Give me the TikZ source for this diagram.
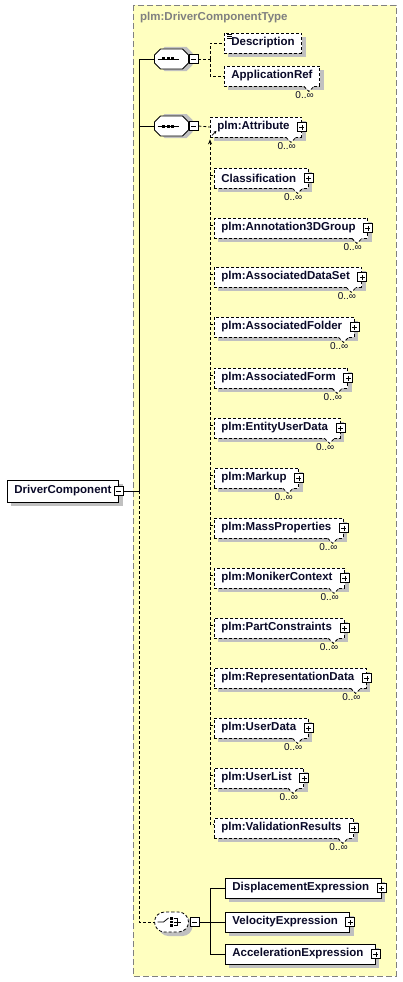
\documentclass[tikz,border=0pt]{standalone}
\usepackage{fontspec}
\setmainfont{Liberation Sans}
\usepackage{tikz}
\usetikzlibrary{shapes.misc, arrows.meta, positioning, calc, shadows}
\definecolor{typefill}{RGB}{255,255,192}
\definecolor{typeedge}{RGB}{128,128,128}
\definecolor{shadowgray}{RGB}{192,192,192}
\definecolor{elemtext}{RGB}{10,10,40}
\tikzset{
  elem/.style={rectangle, draw=black, fill=white, text=elemtext,
    font=\fontsize{11.5}{13}\selectfont\bfseries, minimum height=20pt,
    inner xsep=7pt, inner ysep=0pt, line width=0.8pt, anchor=west,
    drop shadow={shadow xshift=4pt, shadow yshift=-4pt, opacity=1, fill=shadowgray}},
  cplx/.style={elem, execute at end node={\hspace{5pt}}},
  optelem/.style={elem, dash pattern=on 3pt off 2pt},
  optcplx/.style={cplx, dash pattern=on 3pt off 2pt},
  seqnode/.style={rectangle, minimum width=34pt, minimum height=20pt, inner sep=0pt},
  chcnode/.style={rounded rectangle, draw=black, fill=white,
    minimum width=34pt, minimum height=20pt, inner sep=0pt, line width=0.8pt,
    dash pattern=on 3pt off 2pt,
    drop shadow={shadow xshift=4pt, shadow yshift=-4pt, opacity=1, fill=shadowgray}},
  minusbox/.style={rectangle, draw=black, fill=white, solid, minimum size=9pt,
    inner sep=0pt, line width=0.6pt,
    path picture={\draw[line width=0.6pt] ([xshift=-2.5pt]path picture bounding box.center)
      -- ([xshift=2.5pt]path picture bounding box.center);}},
  plusbox/.style={minusbox,
    append after command={[line width=0.6pt] ([yshift=-2.5pt]\tikzlastnode.center)
      edge[-] ([yshift=2.5pt]\tikzlastnode.center)}},
  occ/.style={font=\fontsize{10}{11}\selectfont, inner sep=0pt, text=elemtext},
  line/.style={line width=0.8pt, color=black},
  optline/.style={line width=0.8pt, color=black, dash pattern=on 3pt off 2pt}
}
% notch and 0..oo under an element
\newcommand{\occurs}[1]{%
  \fill[white] ($(#1.south east)+(-16,-0.5)$) -- ($(#1.south east)+(-11,5)$)
    -- ($(#1.south east)+(-6,-0.5)$) -- cycle;
  \draw[optline] ($(#1.south east)+(-16,0)$) -- ($(#1.south east)+(-11,5)$)
    -- ($(#1.south east)+(-6,0)$);
  \node[occ, anchor=north east] (#1-occ) at ($(#1.south east)+(-6,4.5)$) {0..∞};}
% sequence box (octagon) with its symbol
\newcommand{\seqicon}[1]{%
  \fill[shadowgray] ($(#1.center)+(-13,-6)$) -- ++(6,-6) -- ++(22,0) -- ++(6,6)
    -- ++(0,12) -- ++(-6,6) -- ++(-22,0) -- ++(-6,-6) -- cycle;
  \draw[line, fill=white] ($(#1.center)+(-17,-4)$) -- ++(6,-6) -- ++(22,0) -- ++(6,6)
    -- ++(0,8) -- ++(-6,6) -- ++(-22,0) -- ++(-6,-6) -- cycle;
  \draw[line] ($(#1.center)+(-14,0)$) -- ($(#1.center)+(7,0)$);
  \foreach \dx in {-8,-3.5,1}
    \fill ($(#1.center)+(\dx-1.5,-1.5)$) rectangle ($(#1.center)+(\dx+1.5,1.5)$);}
% choice symbol
\newcommand{\chcicon}[1]{%
  \draw[line] ($(#1.center)+(-14,0)$) -- ($(#1.center)+(-8,0)$) -- ($(#1.center)+(-3,-4)$);
  \foreach \dy in {-3.5,0,3.5}
    \fill ($(#1.center)+(-1.3,\dy-1.3)$) rectangle ($(#1.center)+(1.3,\dy+1.3)$);
  \draw[line] ($(#1.center)+(2,-3.5)$) -- ($(#1.center)+(6,-3.5)$) -- ($(#1.center)+(6,3.5)$)
    -- ($(#1.center)+(2,3.5)$) ($(#1.center)+(2,0)$) -- ($(#1.center)+(9,0)$);}

\begin{document}
\begin{tikzpicture}[x=1pt, y=-1pt]
  \useasboundingbox (0,0) rectangle (402,982);

  % Type frame
  \draw[draw=typeedge, fill=typefill, line width=0.9pt, dash pattern=on 6pt off 3pt]
    (133,5) rectangle (396,976);
  \node[anchor=west, text=typeedge, inner sep=0pt,
    font=\fontsize{11.5}{13}\selectfont\bfseries] (title) at (140,18) {plm:DriverComponentType};

  % Root element
  \node[elem, minimum height=22pt] (dc) at (7,491) {DriverComponent\hspace{5pt}};
  \node[minusbox] (dcm) at (dc.east) {};
  \draw[line] (dcm.east) -- (139,491) coordinate (spine);

  % First sequence
  \node[seqnode] (seqa) at (171.5,59) {};
  \seqicon{seqa}
  \node[minusbox, right=0pt of seqa] (seqam) {};
  \node[optelem] (desc) at (224,43) {Description};
  \node[optelem] (appref) at (224,76) {ApplicationRef};
  \occurs{appref}
  \draw[line width=0.6pt] ($(desc.north west)+(3,1.5)$) -- ++(5,0) ++(0,2) -- ++(-5,0) ++(0,2) -- ++(5,0);
  \draw[optline] (seqam.east) -- (210,59) coordinate (forka);
  \draw[optline] (forka) |- (desc.west);
  \draw[optline] (forka) |- (appref.west);

  % Second sequence
  \node[seqnode] (seqb) at (171.5,126) {};
  \seqicon{seqb}
  \node[minusbox, right=0pt of seqb] (seqbm) {};
  \node[optcplx] (attr) at (210,127) {plm:Attribute};
  \node[optcplx] (clsf) at (214,178) {Classification};
  \node[optcplx] (anno) at (214,228) {plm:Annotation3DGroup};
  \node[optcplx] (adset) at (214,277) {plm:AssociatedDataSet};
  \node[optcplx] (afold) at (214,327) {plm:AssociatedFolder};
  \node[optcplx] (aform) at (214,378) {plm:AssociatedForm};
  \node[optcplx] (eud) at (214,428) {plm:EntityUserData};
  \node[optcplx] (mkup) at (214,478) {plm:Markup};
  \node[optcplx] (mass) at (214,528) {plm:MassProperties};
  \node[optcplx] (monk) at (214,578) {plm:MonikerContext};
  \node[optcplx] (pcon) at (214,628) {plm:PartConstraints};
  \node[optcplx] (repd) at (214,678) {plm:RepresentationData};
  \node[optcplx] (udat) at (214,728) {plm:UserData};
  \node[optcplx] (ulst) at (214,778) {plm:UserList};
  \node[optcplx] (vres) at (214,828) {plm:ValidationResults};
  \foreach \n in {attr,clsf,anno,adset,afold,aform,eud,mkup,mass,monk,pcon,repd,udat,ulst,vres}{
    \node[plusbox] (\n-x) at (\n.east) {};
    \occurs{\n}
  }
  \draw[optline] (seqbm.east) -- (attr.west);
  \draw[-{Stealth[length=3pt,width=3pt]}, line width=0.8pt] ($(attr.south west)+(2,-2)$) -- ++(4.5,-4.5);
  \draw[optline, {Stealth[length=5pt,width=4pt]}-] ($(attr.south west)+(0,2)$) |- ($(vres.west)+(0,-4)$);
  \foreach \n in {clsf,anno,adset,afold,aform,eud,mkup,mass,monk,pcon,repd,udat,ulst}
    \draw[optline] ($(attr.west |- \n.west)+(0,-3)$) -- ($(\n.west)+(0,-3)$);

  % Choice
  \node[chcnode] (chc) at (171.5,922) {};
  \chcicon{chc}
  \node[minusbox, right=1pt of chc] (chcm) {};
  \node[cplx] (disp) at (225,888) {DisplacementExpression};
  \node[cplx] (velo) at (225,922) {VelocityExpression};
  \node[cplx] (accl) at (225,954) {AccelerationExpression};
  \foreach \n in {disp,velo,accl}
    \node[plusbox] (\n-x) at (\n.east) {};
  \draw[line] (chcm.east) -- (210,922) coordinate (forkc);
  \draw[line] (forkc) |- (disp.west);
  \draw[line] (forkc) -- (velo.west);
  \draw[line] (forkc) |- (accl.west);

  % Spine
  \draw[line] (spine) |- (seqa.west);
  \draw[line] (spine |- seqb.west) -- (seqb.west);
  \draw[optline] (spine) |- (chc.west);
\end{tikzpicture}
\end{document}
